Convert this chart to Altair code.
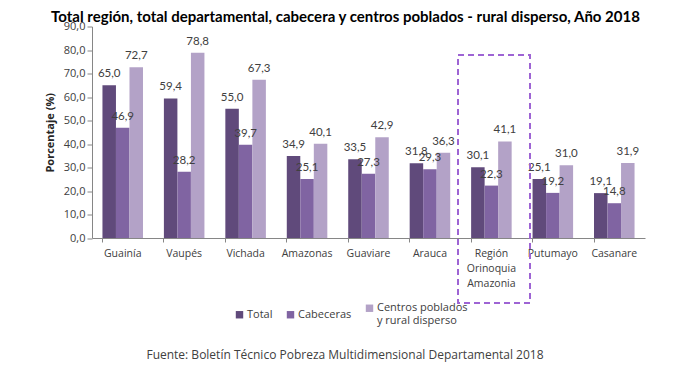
import altair as alt
import pandas as pd

categories = ["Guainía", "Vaupés", "Vichada", "Amazonas", "Guaviare", "Arauca",
              "Región Orinoquia Amazonia", "Putumayo", "Casanare"]
total = [65.0, 59.4, 55.0, 34.9, 33.5, 31.8, 30.1, 25.1, 19.1]
cabeceras = [46.9, 28.2, 39.7, 25.1, 27.3, 29.3, 22.3, 19.2, 14.8]
centros = [72.7, 78.8, 67.3, 40.1, 42.9, 36.3, 41.1, 31.0, 31.9]
series = ["Total", "Cabeceras", "Centros poblados y rural disperso"]
colors = ["#604A7B", "#8064A2", "#B3A2C7"]
y_ticks = [0, 10, 20, 30, 40, 50, 60, 70, 80, 90]

rows = []
for i, c in enumerate(categories):
    for s, vals in zip(series, [total, cabeceras, centros]):
        rows.append({"cat": c, "serie": s, "val": vals[i],
                     "lab": f"{vals[i]:.1f}".replace(".", ",")})
df = pd.DataFrame(rows)

FONT = "Open Sans"
W, H = 553, 211.5

x = alt.X("cat:N", sort=categories, title=None,
          scale=alt.Scale(paddingInner=0.34, paddingOuter=0.17),
          axis=alt.Axis(labelAngle=0, labelFont=FONT, labelFontSize=10.5,
                        labelColor="#404040", domainColor="#868686",
                        tickColor="#868686", tickSize=4, bandPosition=0,
                        labelPadding=6, labelLineHeight=15,
                        labelExpr="datum.label == 'Región Orinoquia Amazonia' ? ['Región', 'Orinoquia', 'Amazonia'] : datum.label"))
xo = alt.XOffset("serie:N", sort=series, scale=alt.Scale(paddingInner=0, paddingOuter=0))
y = alt.Y("val:Q", title="Porcentaje (%)",
          scale=alt.Scale(domain=[0, 90], nice=False),
          axis=alt.Axis(values=y_ticks, tickCount=10, grid=False, labelOverlap=False, labelFlush=False,
                        labelFont=FONT, labelFontSize=11,
                        labelColor="#404040", domainColor="#868686", tickColor="#868686",
                        tickSize=5, titleFont=FONT, titleFontSize=11, titleFontWeight="bold",
                        titleColor="#262626", titlePadding=8,
                        labelExpr="replace(format(datum.value, '.1f'), '.', ',')"))

base = alt.Chart(df)
bars = base.mark_bar(size=13.5).encode(
    x=x, xOffset=xo, y=y,
    color=alt.Color("serie:N", sort=series, title=None,
                    scale=alt.Scale(domain=series, range=colors),
                    legend=alt.Legend(orient="none", legendX=142, legendY=276,
                                      direction="horizontal", symbolType="square",
                                      symbolSize=55, symbolStrokeWidth=0,
                                      labelFont=FONT, labelFontSize=11, labelColor="#404040",
                                      columnPadding=12, labelOffset=2, labelLimit=200,
                                      labelExpr="datum.label == 'Centros poblados y rural disperso' ? ['Centros poblados', 'y rural disperso'] : datum.label")),
)
labels = base.mark_text(dy=-11, font="Lato", fontSize=11.5, color="#404040").encode(
    x=x, xOffset=xo, y=y, text="lab:N")

box = alt.Chart(pd.DataFrame({"a": [1]})).mark_rect(
    fill=None, stroke="#9E64D4", strokeWidth=2, strokeDash=[6, 4]).encode(
    x=alt.value(366), x2=alt.value(438), y=alt.value(28.5), y2=alt.value(276.5))

note = alt.Chart(pd.DataFrame({"t": ["Fuente: Boletín Técnico Pobreza Multidimensional Departamental 2018"]})).mark_text(
    font=FONT, fontSize=12, color="#404040", align="center", baseline="middle").encode(
    x=alt.value(253), y=alt.value(328), text="t:N")

chart = alt.layer(bars, labels, box, note).properties(
    width=W, height=H,
    title=alt.TitleParams("Total región, total departamental, cabecera y centros poblados - rural disperso, Año 2018",
                          font="Lato", fontSize=15, fontWeight="bold", color="#000000",
                          anchor="middle", dx=-23, offset=-4),
    autosize=alt.AutoSizeParams(type="none"),
    padding={"left": 84, "top": 18.5, "right": 36, "bottom": 129},
).configure_view(stroke=None)

chart.save("out.html", embed_options={"renderer": "svg", "actions": False})
